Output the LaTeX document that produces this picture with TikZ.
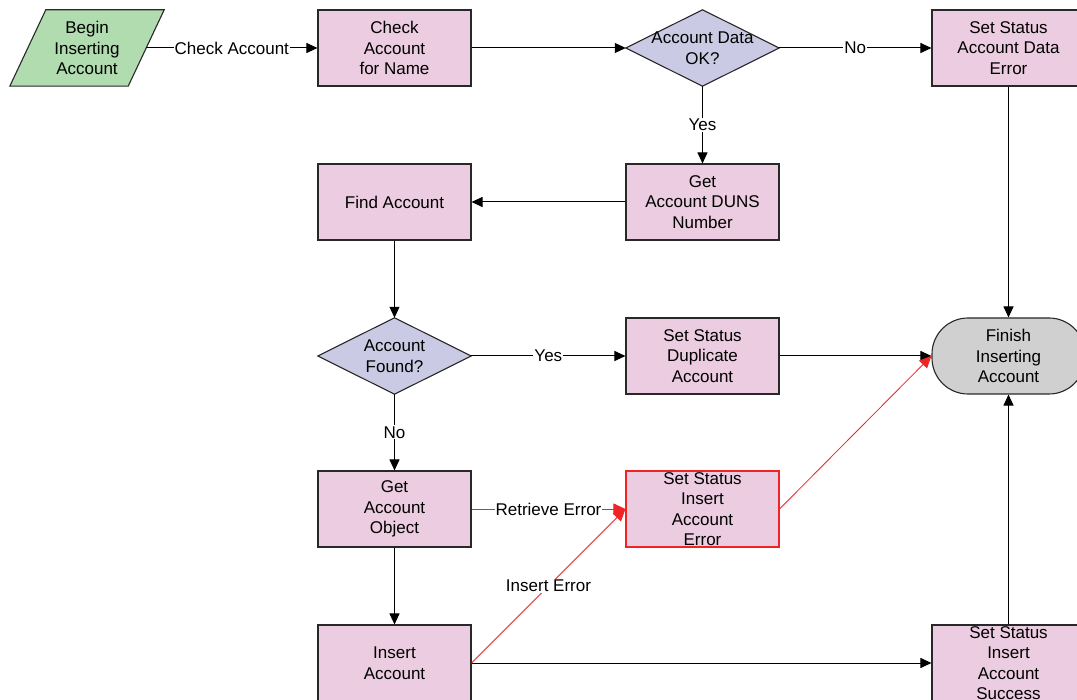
\documentclass[tikz,border=0pt]{standalone}
\usepackage{fontspec}
\setmainfont{Liberation Sans}
\usetikzlibrary{arrows.meta,backgrounds}
\definecolor{pinkfill}{RGB}{236,204,224}
\definecolor{lavfill}{RGB}{202,202,228}
\definecolor{greenfill}{RGB}{176,220,176}
\definecolor{grayfill}{RGB}{208,208,208}
\definecolor{redline}{RGB}{240,36,36}
\definecolor{darkline}{RGB}{40,40,40}
\tikzset{
  x=1pt, y=-1pt,
  every node/.style={font=\fontsize{17}{20.5}\selectfont, align=center, inner sep=0pt},
  stepbox/.style={draw=darkline, line width=1.1pt, fill=pinkfill, minimum width=153pt, minimum height=76pt},
  errbox/.style={stepbox, draw=redline},
  decbox/.style={minimum width=153pt, minimum height=76pt},
  decshape/.style={draw=darkline, line width=1.1pt, fill=lavfill},
  termbox/.style={draw=darkline, line width=1.1pt, fill=grayfill, rounded corners=36pt, minimum width=153pt, minimum height=76pt},
  startbox/.style={minimum width=118pt, minimum height=76pt},
  conn/.style={line width=1pt, draw=black, -{Triangle[length=11pt,width=10pt]}},
  redconn/.style={line width=0.8pt, draw=redline, -{Triangle[length=12pt,width=11pt]}, color=redline},
  lbl/.style={fill=white, inner sep=1pt, text=black}
}
\begin{document}
\begin{tikzpicture}
\useasboundingbox (0,0) rectangle (1077,700);
\clip (0,0) rectangle (1077,700);

\node[startbox] (begin) at (87,48) {Begin\\Inserting\\Account};
\node[stepbox] (check) at (394.5,48) {Check\\Account\\for Name};
\node[decbox] (dataok) at (702.5,48) {Account Data\\OK?};
\node[stepbox] (dataerr) at (1008.5,48) {Set Status\\Account Data\\Error};
\node[stepbox] (duns) at (702.5,202) {Get\\Account DUNS\\Number};
\node[stepbox] (find) at (394.5,202) {Find Account};
\node[decbox] (found) at (394.5,356) {Account\\Found?};
\node[stepbox] (dup) at (702.5,356) {Set Status\\Duplicate\\Account};
\node[termbox] (finish) at (1008.5,356) {Finish\\Inserting\\Account};
\node[stepbox] (getobj) at (394.5,509) {Get\\Account\\Object};
\node[errbox] (inserr) at (702.5,509) {Set Status\\Insert\\Account\\Error};
\node[stepbox] (insert) at (394.5,663) {Insert\\Account};
\node[stepbox] (success) at (1008.5,663) {Set Status\\Insert\\Account\\Success};

\begin{scope}[on background layer]
  \fill[white] (0,0) rectangle (1077,700);
  \draw[draw=darkline, line width=1.1pt, fill=greenfill]
    ([xshift=18pt]begin.north west) -- ([xshift=18pt]begin.north east)
    -- ([xshift=-18pt]begin.south east) -- ([xshift=-18pt]begin.south west) -- cycle;
  \draw[decshape] (dataok.west) -- (dataok.north) -- (dataok.east) -- (dataok.south) -- cycle;
  \draw[decshape] (found.west) -- (found.north) -- (found.east) -- (found.south) -- cycle;
\end{scope}

\draw[conn] (begin.east) -- node[lbl] {Check Account} (check.west);
\draw[conn] (check.east) -- (dataok.west);
\draw[conn] (dataok.east) -- node[lbl] {No} (dataerr.west);
\draw[conn] (dataok.south) -- node[lbl] {Yes} (duns.north);
\draw[conn] (duns.west) -- (find.east);
\draw[conn] (find.south) -- (found.north);
\draw[conn] (found.east) -- node[lbl] {Yes} (dup.west);
\draw[conn] (found.south) -- node[lbl] {No} (getobj.north);
\draw[conn] (dup.east) -- (finish.west);
\draw[conn] (dataerr.south) -- (finish.north);
\draw[conn] (success.north) -- (finish.south);
\draw[conn] (getobj.south) -- (insert.north);
\draw[conn] (insert.east) -- (success.west);
\draw[redconn] (getobj.east) -- node[lbl] {Retrieve Error} (inserr.west);
\draw[redconn] (insert.east) -- node[lbl] {Insert Error} (inserr.west);
\draw[redconn] (inserr.east) -- (finish.west);
\end{tikzpicture}
\end{document}
